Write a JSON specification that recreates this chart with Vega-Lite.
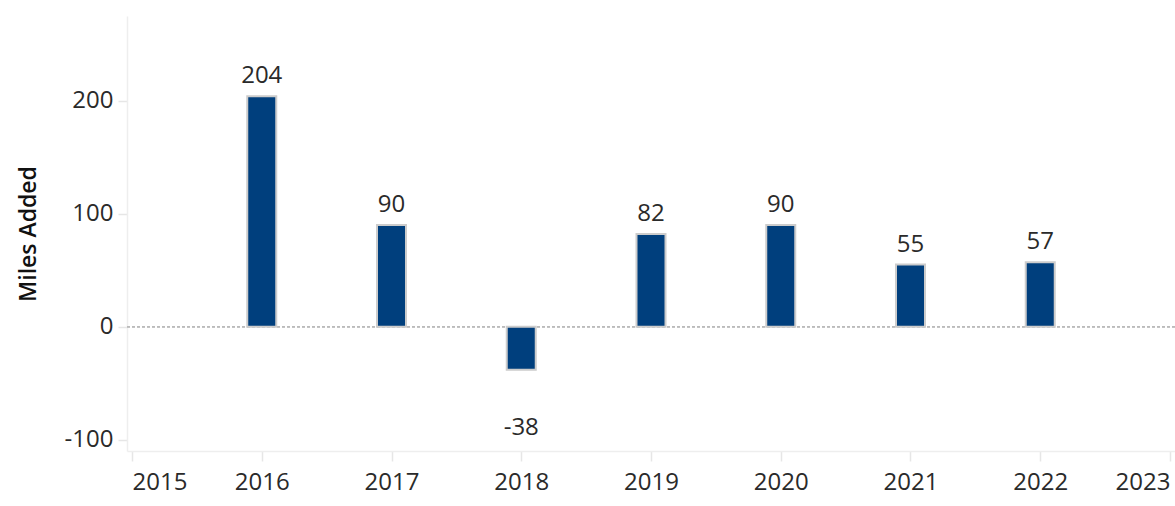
{
  "$schema": "https://vega.github.io/schema/vega-lite/v6.json",
  "autosize": "none",
  "width": 1048,
  "height": 435,
  "padding": {"left": 127, "top": 16, "right": 0, "bottom": 55},
  "background": "white",
  "config": {
    "view": {"stroke": null},
    "font": "Open Sans",
    "axis": {"labelFont": "Open Sans", "titleFont": "Open Sans", "grid": false}
  },
  "data": {
    "values": [
      {"year": 2016, "miles": 204},
      {"year": 2017, "miles": 90},
      {"year": 2018, "miles": -38},
      {"year": 2019, "miles": 82},
      {"year": 2020, "miles": 90},
      {"year": 2021, "miles": 55},
      {"year": 2022, "miles": 57}
    ]
  },
  "encoding": {
    "x": {
      "field": "year",
      "type": "quantitative",
      "scale": {"domain": [2015, 2023], "nice": false, "zero": false},
      "axis": {
        "title": null,
        "values": [2015, 2016, 2017, 2018, 2019, 2020, 2021, 2022, 2023],
        "format": "d",
        "labelAlign": {"expr": "datum.value == 2015 ? 'left' : datum.value == 2023 ? 'right' : 'center'"},
        "labelDx": {"expr": "datum.value == 2015 ? 3 : datum.value == 2023 ? -3 : 0"},
        "labelFontSize": 24,
        "labelColor": "#2a2a2a",
        "labelPadding": 9,
        "domainColor": "#eeeeee",
        "domainWidth": 1.5,
        "tickColor": "#e6e6e6",
        "tickSize": 10,
        "tickWidth": 1.5
      }
    }
  },
  "layer": [
    {
      "mark": {"type": "rule", "color": "#bbbbbb", "strokeDash": [3, 2], "strokeWidth": 1.3},
      "encoding": {
        "y": {"datum": 0, "type": "quantitative"},
        "x": null
      }
    },
    {
      "mark": {"type": "bar", "size": 29, "color": "#003f7d", "stroke": "#cccccc", "strokeWidth": 2},
      "encoding": {
        "y": {
          "field": "miles",
          "type": "quantitative",
          "scale": {"domain": [-110, 275], "nice": false, "zero": false},
          "axis": {
            "title": "Miles Added",
            "titleFontSize": 23,
            "titleFontWeight": 600,
            "titleColor": "#111111",
            "titlePadding": 24,
            "values": [-100, 0, 100, 200],
            "labelExpr": "replace(datum.label, '−', '-')",
            "labelFontSize": 24,
            "labelColor": "#2a2a2a",
            "labelPadding": 5,
            "domainColor": "#eeeeee",
            "domainWidth": 1.5,
            "tickColor": "#e6e6e6",
            "tickSize": 9,
            "tickWidth": 1.5
          }
        },
        "y2": {"datum": 0}
      }
    },
    {
      "transform": [{"filter": "datum.miles >= 0"}],
      "mark": {"type": "text", "fontSize": 24, "color": "#2a2a2a", "baseline": "alphabetic", "dy": -13},
      "encoding": {
        "y": {"field": "miles", "type": "quantitative"},
        "text": {"field": "miles", "type": "nominal"}
      }
    },
    {
      "transform": [{"filter": "datum.miles < 0"}],
      "mark": {"type": "text", "fontSize": 24, "color": "#2a2a2a", "baseline": "alphabetic", "dy": 65},
      "encoding": {
        "y": {"field": "miles", "type": "quantitative"},
        "text": {"field": "miles", "type": "nominal"}
      }
    }
  ]
}
